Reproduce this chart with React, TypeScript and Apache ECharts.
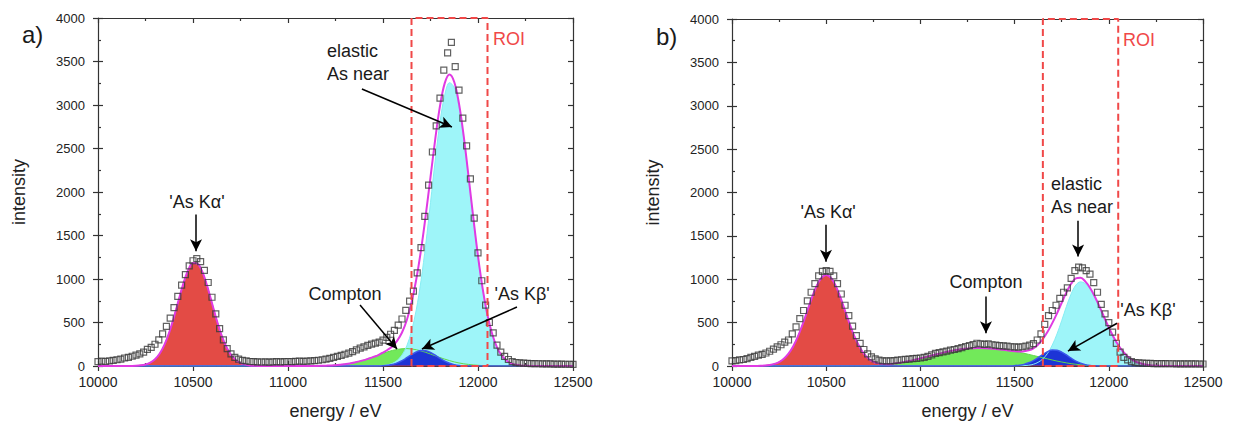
import React, { useEffect, useRef } from "react";
import * as echarts from "echarts";

// ---------- data ----------
const curveStart = 10000; // eV, fitted curves sampled every 25 eV
const curveStep = 25;
const dataStart = 10000; // eV, measured points every 20 eV
const dataStep = 20;
const roiEdges = [11650, 12050];

// panel a) fitted components (rows of 200 eV)
const redA = [
  0, 0, 0, 0, 0, 0, 0, 1,
  3, 8, 18, 39, 78, 144, 245, 386,
  564, 762, 953, 1103, 1183, 1174, 1078, 917,
  722, 526, 355, 221, 128, 69, 34, 16,
  7, 3, 0, 0, 0, 0, 0, 0,
  0, 0, 0, 0, 0, 0, 0, 0,
  0, 0, 0, 0, 0, 0, 0, 0,
  0, 0, 0, 0, 0, 0, 0, 0,
  0, 0, 0, 0, 0, 0, 0, 0,
  0, 0, 0, 0, 0, 0, 0, 0,
  0, 0, 0, 0, 0, 0, 0, 0,
  0, 0, 0, 0, 0, 0, 0, 0,
  0, 0, 0, 0, 0,
];
const greenA = [
  0, 0, 0, 0, 0, 0, 0, 0,
  0, 0, 0, 0, 0, 0, 0, 0,
  0, 0, 0, 0, 0, 0, 0, 0,
  0, 0, 0, 0, 0, 0, 0, 0,
  0, 0, 0, 0, 0, 0, 0, 0,
  0, 0, 0, 0, 0, 1, 1, 2,
  4, 6, 10, 14, 21, 29, 40, 53,
  68, 86, 105, 125, 145, 164, 179, 191,
  198, 200, 196, 187, 173, 157, 137, 117,
  97, 79, 62, 47, 35, 25, 18, 12,
  8, 5, 3, 2, 1, 0, 0, 0,
  0, 0, 0, 0, 0, 0, 0, 0,
  0, 0, 0, 0, 0,
];
const blueA = [
  0, 0, 0, 0, 0, 0, 0, 0,
  0, 0, 0, 0, 0, 0, 0, 0,
  0, 0, 0, 0, 0, 0, 0, 0,
  0, 0, 0, 0, 0, 0, 0, 0,
  0, 0, 0, 0, 0, 0, 0, 0,
  0, 0, 0, 0, 0, 0, 0, 0,
  0, 0, 0, 0, 0, 0, 0, 0,
  0, 0, 0, 1, 4, 9, 18, 36,
  61, 95, 131, 161, 178, 176, 156, 124,
  88, 56, 32, 16, 7, 3, 1, 0,
  0, 0, 0, 0, 0, 0, 0, 0,
  0, 0, 0, 0, 0, 0, 0, 0,
  0, 0, 0, 0, 0,
];
const cyanA = [
  0, 0, 0, 0, 0, 0, 0, 0,
  0, 0, 0, 0, 0, 0, 0, 0,
  0, 0, 0, 0, 0, 0, 0, 0,
  0, 0, 0, 0, 0, 0, 0, 0,
  0, 0, 0, 0, 0, 0, 0, 0,
  0, 0, 0, 0, 0, 0, 0, 0,
  0, 0, 0, 0, 0, 0, 0, 0,
  0, 0, 0, 0, 6, 14, 31, 65,
  126, 231, 399, 646, 981, 1400, 1878, 2367,
  2804, 3116, 3257, 3201, 2973, 2611, 2165, 1698,
  1255, 879, 580, 362, 214, 120, 63, 31,
  15, 7, 3, 0, 0, 0, 0, 0,
  0, 0, 0, 0, 0,
];
const fitA = [
  0, 0, 0, 0, 0, 0, 0, 1,
  3, 8, 18, 39, 78, 144, 245, 386,
  564, 762, 953, 1103, 1183, 1174, 1078, 917,
  722, 526, 355, 221, 128, 69, 34, 16,
  7, 3, 0, 0, 0, 0, 0, 0,
  0, 0, 0, 0, 0, 1, 1, 2,
  4, 6, 10, 14, 21, 29, 40, 53,
  68, 86, 105, 126, 155, 187, 228, 292,
  385, 526, 726, 994, 1332, 1733, 2171, 2608,
  2989, 3251, 3351, 3264, 3015, 2639, 2184, 1710,
  1263, 884, 583, 364, 215, 120, 63, 31,
  15, 7, 3, 0, 0, 0, 0, 0,
  0, 0, 0, 0, 0,
];
// panel a) measured intensities (rows of 200 eV)
const dataA = [
  50, 55, 52, 60, 65, 72, 80, 92, 100, 112,
  125, 140, 160, 190, 215, 250, 300, 370, 455, 550,
  670, 800, 930, 1050, 1150, 1210, 1235, 1200, 1100, 960,
  790, 600, 430, 300, 200, 140, 100, 78, 65, 58,
  52, 50, 48, 46, 48, 45, 48, 50, 48, 50,
  52, 50, 53, 55, 54, 56, 58, 62, 66, 72,
  80, 88, 98, 110, 122, 135, 148, 165, 185, 205,
  220, 238, 252, 263, 275, 298, 330, 365, 410, 470,
  540, 640, 745, 860, 1070, 1360, 1720, 2080, 2460, 2760,
  3080, 3400, 3600, 3720, 3440, 3170, 2850, 2530, 2150, 1700,
  1300, 980, 700, 500, 380, 240, 160, 110, 75, 50,
  40, 35, 32, 30, 28, 27, 26, 25, 24, 24,
  22, 22, 21, 20, 20, 19,
];

// panel b) fitted components
const redB = [
  0, 0, 0, 0, 0, 1, 2, 5,
  12, 24, 46, 84, 142, 227, 341, 481,
  637, 793, 927, 1017, 1050, 1017, 927, 793,
  637, 481, 341, 227, 142, 84, 46, 24,
  12, 5, 2, 1, 0, 0, 0, 0,
  0, 0, 0, 0, 0, 0, 0, 0,
  0, 0, 0, 0, 0, 0, 0, 0,
  0, 0, 0, 0, 0, 0, 0, 0,
  0, 0, 0, 0, 0, 0, 0, 0,
  0, 0, 0, 0, 0, 0, 0, 0,
  0, 0, 0, 0, 0, 0, 0, 0,
  0, 0, 0, 0, 0, 0, 0, 0,
  0, 0, 0, 0, 0,
];
const greenB = [
  0, 0, 0, 0, 0, 0, 0, 0,
  0, 0, 0, 0, 0, 0, 0, 0,
  0, 0, 0, 0, 0, 0, 0, 0,
  0, 0, 0, 0, 0, 0, 3, 6,
  10, 16, 23, 31, 40, 51, 62, 75,
  88, 101, 115, 129, 142, 155, 167, 178,
  188, 196, 202, 205, 207, 207, 205, 202,
  197, 191, 184, 176, 167, 157, 146, 134,
  121, 108, 95, 82, 69, 57, 46, 36,
  27, 20, 14, 9, 6, 3, 1, 0,
  0, 0, 0, 0, 0, 0, 0, 0,
  0, 0, 0, 0, 0, 0, 0, 0,
  0, 0, 0, 0, 0,
];
const blueB = [
  0, 0, 0, 0, 0, 0, 0, 0,
  0, 0, 0, 0, 0, 0, 0, 0,
  0, 0, 0, 0, 0, 0, 0, 0,
  0, 0, 0, 0, 0, 0, 0, 0,
  0, 0, 0, 0, 0, 0, 0, 0,
  0, 0, 0, 0, 0, 0, 0, 0,
  0, 0, 0, 0, 0, 0, 0, 0,
  0, 0, 0, 1, 4, 9, 19, 37,
  63, 97, 134, 166, 183, 181, 160, 127,
  90, 57, 33, 16, 7, 3, 1, 0,
  0, 0, 0, 0, 0, 0, 0, 0,
  0, 0, 0, 0, 0, 0, 0, 0,
  0, 0, 0, 0, 0,
];
const cyanB = [
  0, 0, 0, 0, 0, 0, 0, 0,
  0, 0, 0, 0, 0, 0, 0, 0,
  0, 0, 0, 0, 0, 0, 0, 0,
  0, 0, 0, 0, 0, 0, 0, 0,
  0, 0, 0, 0, 0, 0, 0, 0,
  0, 0, 0, 0, 0, 0, 0, 0,
  0, 0, 0, 0, 0, 0, 0, 0,
  0, 0, 0, 0, 0, 1, 4, 9,
  20, 43, 82, 146, 242, 369, 523, 686,
  831, 933, 970, 950, 889, 798, 686, 564,
  444, 335, 242, 167, 111, 70, 43, 25,
  14, 7, 4, 2, 0, 0, 0, 0,
  0, 0, 0, 0, 0,
];
const fitB = [
  0, 0, 0, 0, 0, 1, 2, 5,
  12, 24, 46, 84, 142, 227, 341, 481,
  637, 793, 927, 1017, 1050, 1017, 927, 793,
  637, 481, 341, 227, 142, 84, 49, 30,
  22, 21, 25, 32, 40, 51, 62, 75,
  88, 101, 115, 129, 142, 155, 167, 178,
  188, 196, 202, 205, 207, 207, 205, 202,
  197, 191, 184, 177, 171, 167, 169, 180,
  204, 248, 311, 394, 494, 607, 729, 849,
  948, 1010, 1017, 975, 902, 804, 688, 564,
  444, 335, 242, 167, 111, 70, 43, 25,
  14, 7, 4, 2, 0, 0, 0, 0,
  0, 0, 0, 0, 0,
];
const dataB = [
  60, 62, 70, 75, 85, 100, 112, 125, 135, 150,
  170, 195, 220, 245, 275, 300, 370, 450, 545, 640,
  750, 850, 950, 1040, 1090, 1100, 1090, 1040, 950, 830,
  700, 580, 460, 350, 260, 190, 140, 105, 82, 68,
  60, 58, 60, 63, 68, 72, 76, 80, 85, 88,
  92, 100, 112, 128, 145, 155, 162, 172, 182, 190,
  200, 212, 225, 235, 248, 262, 255, 250, 256, 245,
  240, 236, 232, 228, 222, 220, 218, 222, 230, 240,
  258, 300, 370, 480, 580, 640, 700, 780, 850, 900,
  1010, 1100, 1140, 1130, 1100, 1060, 960, 850, 710, 600,
  500, 390, 260, 160, 100, 70, 50, 40, 35, 32,
  30, 30, 28, 28, 27, 27, 26, 26, 25, 25,
  25, 24, 24, 24, 23, 23,
];

// annotations (data coordinates: energy, intensity)
const notesA = [
  { text: "'As K\u03b1'", x: 10521, y: 1880, align: "center" },
  { text: "elastic\nAs near", x: 11205, y: 3483, align: "left" },
  { text: "Compton", x: 11300, y: 828, align: "center" },
  { text: "'As K\u03b2'", x: 12232, y: 828, align: "center" },
  { text: "ROI", x: 12079, y: 3759, align: "left", red: true },
];
const arrowsA = [
  [10516, 1740, 10516, 1320],
  [11389, 3184, 11863, 2747],
  [11379, 701, 11574, 195],
  [12205, 678, 11705, 195],
];
const notesB = [
  { text: "'As K\u03b1'", x: 10510, y: 1776, align: "center" },
  { text: "elastic\nAs near", x: 11693, y: 1966, align: "left" },
  { text: "Compton", x: 11348, y: 974, align: "center" },
  { text: "'As K\u03b2'", x: 12208, y: 642, align: "center" },
  { text: "ROI", x: 12075, y: 3759, align: "left", red: true },
];
const arrowsB = [
  [10499, 1627, 10499, 1203],
  [11837, 1673, 11837, 1261],
  [11348, 802, 11348, 378],
  [12044, 493, 11783, 172],
];
const panelTags = ["a)", "b)"];

// ---------- styling ----------
const FONT = '"Liberation Sans", Arial, Helvetica, sans-serif';
const INK = "#1a1a1a";
const AXIS = "#333333";
const ROI_RED = "#f04848";

const gridBoxes = [
  { left: 98, top: 18, width: 475, height: 349 },
  { left: 732, top: 19, width: 471, height: 350 },
];
const tagPos = [
  { x: 22, y: 34 },
  { x: 656, y: 36 },
];

const pairs = (vals: number[], start: number, step: number) =>
  vals.map((v, i) => [start + i * step, v]);

const plain = (v: number) => String(v);

function xAxes(g: number) {
  const base = {
    gridIndex: g,
    type: "value",
    min: 10000,
    max: 12500,
    interval: 500,
    splitLine: { show: false },
  };
  const tickStyle = { color: AXIS, width: 1.2 };
  return [
    {
      ...base,
      position: "bottom",
      axisLine: { show: true, onZero: false, lineStyle: { color: AXIS, width: 1.2 } },
      axisTick: { show: true, inside: false, length: 5, lineStyle: tickStyle },
      axisLabel: { show: true, fontSize: 14, color: "#222", margin: 9, fontFamily: FONT, formatter: plain },
      name: "energy / eV",
      nameLocation: "middle",
      nameGap: 36,
      nameTextStyle: { fontSize: 18, color: "#222", fontFamily: FONT },
    },
    {
      ...base,
      position: "bottom",
      axisLine: { show: false, onZero: false },
      axisTick: { show: true, inside: true, length: 5, lineStyle: tickStyle },
      minorTick: { show: true, splitNumber: 2, length: 3, lineStyle: tickStyle },
      axisLabel: { show: false },
    },
    {
      ...base,
      position: "top",
      axisLine: { show: true, onZero: false, lineStyle: { color: AXIS, width: 1.2 } },
      axisTick: { show: true, inside: true, length: 5, lineStyle: tickStyle },
      minorTick: { show: true, splitNumber: 2, length: 3, lineStyle: tickStyle },
      axisLabel: { show: false },
    },
  ];
}

function yAxes(g: number) {
  const base = {
    gridIndex: g,
    type: "value",
    min: 0,
    max: 4000,
    interval: 500,
    splitLine: { show: false },
  };
  const tickStyle = { color: AXIS, width: 1.2 };
  return [
    {
      ...base,
      position: "left",
      axisLine: { show: true, onZero: false, lineStyle: { color: AXIS, width: 1.2 } },
      axisTick: { show: true, inside: false, length: 5, lineStyle: tickStyle },
      axisLabel: { show: true, fontSize: 13, color: "#222", margin: 13, fontFamily: FONT, formatter: plain },
      name: "intensity",
      nameLocation: "middle",
      nameRotate: 90,
      nameGap: 70,
      nameTextStyle: { fontSize: 18, color: "#222", fontFamily: FONT },
    },
    {
      ...base,
      position: "left",
      axisLine: { show: false, onZero: false },
      axisTick: { show: true, inside: true, length: 5, lineStyle: tickStyle },
      minorTick: { show: true, splitNumber: 2, length: 3, lineStyle: tickStyle },
      axisLabel: { show: false },
    },
    {
      ...base,
      position: "right",
      axisLine: { show: true, onZero: false, lineStyle: { color: AXIS, width: 1.2 } },
      axisTick: { show: true, inside: true, length: 5, lineStyle: tickStyle },
      minorTick: { show: true, splitNumber: 2, length: 3, lineStyle: tickStyle },
      axisLabel: { show: false },
    },
  ];
}

export default function App() {
  const ref = useRef<HTMLDivElement>(null);

  useEffect(() => {
    const el = ref.current;
    if (!el) return;
    const chart = echarts.init(el, undefined, { renderer: "svg" });

    const panels = [
      { red: redA, green: greenA, cyan: cyanA, blue: blueA, fit: fitA, data: dataA, notes: notesA, arrows: arrowsA },
      { red: redB, green: greenB, cyan: cyanB, blue: blueB, fit: fitB, data: dataB, notes: notesB, arrows: arrowsB },
    ];

    const xAxis: any[] = [];
    const yAxis: any[] = [];
    const series: any[] = [];
    const fitIndex: number[] = [];

    panels.forEach((p, g) => {
      xAxis.push(...xAxes(g));
      yAxis.push(...yAxes(g));
      const ax = { xAxisIndex: 3 * g, yAxisIndex: 3 * g };
      const area = (name: string, vals: number[], fill: string, line: string, lw: number) => ({
        name,
        type: "line",
        ...ax,
        data: pairs(vals, curveStart, curveStep),
        symbol: "none",
        smooth: 0.35,
        lineStyle: { color: line, width: lw },
        areaStyle: { color: fill, opacity: 1 },
        silent: true,
        z: 2,
      });
      series.push(area("As Ka", p.red, "#e34b45", "#cf3a36", 1));
      series.push(area("Compton", p.green, "#72e95a", "#5fd94b", 1));
      series.push(area("elastic", p.cyan, "#9ef5f9", "#86edf3", 1));
      series.push(area("As Kb", p.blue, "#1d34d6", "#3a57ec", 1.5));
      fitIndex.push(series.length);
      series.push({
        name: "fit",
        type: "line",
        ...ax,
        data: pairs(p.fit, curveStart, curveStep),
        symbol: "none",
        smooth: 0.35,
        lineStyle: { color: "#e03ae3", width: 2 },
        silent: true,
        z: 3,
        markLine: {
          silent: true,
          symbol: ["none", "arrow"],
          symbolSize: [9, 12],
          label: { show: false },
          lineStyle: { color: "#000", width: 1.5, type: "solid" },
          data: p.arrows.map((a) => [{ coord: [a[0], a[1]] }, { coord: [a[2], a[3]] }]),
          z: 6,
        },
      });
      series.push({
        name: "data",
        type: "scatter",
        ...ax,
        data: pairs(p.data, dataStart, dataStep),
        symbol: "rect",
        symbolSize: 6,
        itemStyle: { color: "rgba(255,255,255,0)", borderColor: "#3a3a3a", borderWidth: 1.2 },
        silent: true,
        z: 4,
      });
      series.push({
        name: "ROI",
        type: "line",
        ...ax,
        data: [
          [roiEdges[0], 0],
          [roiEdges[0], 4000],
          [roiEdges[1], 4000],
          [roiEdges[1], 0],
          [roiEdges[0], 0],
        ],
        symbol: "none",
        clip: false,
        lineStyle: { color: ROI_RED, width: 2, type: [7, 4] },
        silent: true,
        z: 5,
      });
    });

    chart.setOption({
      animation: false,
      backgroundColor: "#ffffff",
      textStyle: { fontFamily: FONT },
      grid: gridBoxes,
      xAxis,
      yAxis,
      series,
    });

    const graphic: any[] = [];
    panels.forEach((p, g) => {
      p.notes.forEach((n: any) => {
        const pt = chart.convertToPixel({ seriesIndex: fitIndex[g] }, [n.x, n.y]) as number[];
        graphic.push({
          type: "text",
          x: pt[0],
          y: pt[1],
          silent: true,
          z: 10,
          style: {
            text: n.text,
            fill: n.red ? ROI_RED : INK,
            fontSize: 18,
            fontFamily: FONT,
            align: n.align,
            verticalAlign: "middle",
            lineHeight: 23,
          },
        });
      });
      graphic.push({
        type: "text",
        x: tagPos[g].x,
        y: tagPos[g].y,
        silent: true,
        style: {
          text: panelTags[g],
          fill: INK,
          fontSize: 24,
          fontFamily: FONT,
          align: "left",
          verticalAlign: "middle",
        },
      });
    });
    chart.setOption({ graphic });

    return () => chart.dispose();
  }, []);

  return (
    <div
      ref={ref}
      style={{ position: "absolute", left: 0, top: 0, width: 1236, height: 425, background: "#fff" }}
    />
  );
}
